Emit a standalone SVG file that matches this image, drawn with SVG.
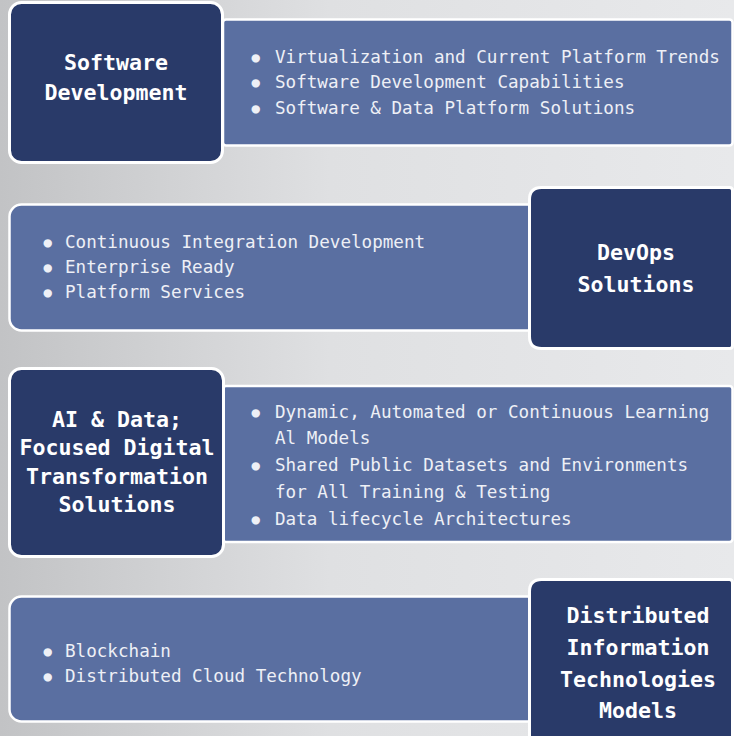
<svg xmlns="http://www.w3.org/2000/svg" width="734" height="736" viewBox="0 0 734 736">
  <defs>
    <linearGradient id="bg" x1="0" y1="0" x2="1" y2="0">
      <stop offset="0" stop-color="#c2c3c5"/>
      <stop offset="0.45" stop-color="#dfe0e2"/>
      <stop offset="1" stop-color="#e8e9eb"/>
    </linearGradient>
    <style>
      .dark { fill: #293a69; stroke: #ffffff; stroke-width: 3; }
      .light { fill: #5a6fa1; stroke: #ffffff; stroke-width: 2.5; }
      .title { font-family: "DejaVu Sans Mono", "Liberation Mono", monospace; font-weight: bold; font-size: 21.6px; fill: #ffffff; text-anchor: middle; }
      .item { font-family: "DejaVu Sans Mono", "Liberation Mono", monospace; font-size: 17.6px; fill: #eef0f6; }
      .b { font-size: 14px; }
    </style>
  </defs>
  <rect x="0" y="0" width="734" height="736" fill="url(#bg)"/>

  <g id="row1">
    <rect id="row1-details" class="light" x="223" y="19.5" width="509.5" height="126" rx="3"/>
    <g id="row1-items" class="item">
      <text x="251.5" y="62"><tspan class="b">●</tspan><tspan x="275" y="63">Virtualization and Current Platform Trends</tspan></text>
      <text x="251.5" y="87"><tspan class="b">●</tspan><tspan x="275" y="88">Software Development Capabilities</tspan></text>
      <text x="251.5" y="113"><tspan class="b">●</tspan><tspan x="275" y="114">Software &amp; Data Platform Solutions</tspan></text>
    </g>
    <g id="software-development">
      <rect class="dark" x="9.5" y="2.5" width="213" height="160" rx="12"/>
      <text class="title" x="116" y="70">Software</text>
      <text class="title" x="116" y="100">Development</text>
    </g>
  </g>

  <g id="row2">
    <rect id="row2-details" class="light" x="9.5" y="204.5" width="530" height="126" rx="12"/>
    <g id="row2-items" class="item">
      <text x="43.5" y="247"><tspan class="b">●</tspan><tspan x="65" y="248">Continuous Integration Development</tspan></text>
      <text x="43.5" y="272"><tspan class="b">●</tspan><tspan x="65" y="273">Enterprise Ready</tspan></text>
      <text x="43.5" y="297"><tspan class="b">●</tspan><tspan x="65" y="298">Platform Services</tspan></text>
    </g>
    <g id="devops-solutions">
      <path class="dark" d="M541.5,187.5 H729.5 Q732.5,187.5 732.5,190.5 V345.5 Q732.5,348.5 729.5,348.5 H541.5 Q529.5,348.5 529.5,336.5 V199.5 Q529.5,187.5 541.5,187.5 Z"/>
      <text class="title" x="636" y="260">DevOps</text>
      <text class="title" x="636" y="292">Solutions</text>
    </g>
  </g>

  <g id="row3">
    <rect id="row3-details" class="light" x="223" y="386" width="509.5" height="156" rx="3"/>
    <g id="row3-items" class="item">
      <text x="251.5" y="417"><tspan class="b">●</tspan><tspan x="275" y="418">Dynamic, Automated or Continuous Learning</tspan></text>
      <text x="275" y="444">Al Models</text>
      <text x="251.5" y="470"><tspan class="b">●</tspan><tspan x="275" y="471">Shared Public Datasets and Environments</tspan></text>
      <text x="275" y="498">for All Training &amp; Testing</text>
      <text x="251.5" y="524"><tspan class="b">●</tspan><tspan x="275" y="525">Data lifecycle Architectures</tspan></text>
    </g>
    <g id="ai-data">
      <rect class="dark" x="9.5" y="368.5" width="214" height="188" rx="12"/>
      <text class="title" x="117" y="427">AI &amp; Data;</text>
      <text class="title" x="117" y="455">Focused Digital</text>
      <text class="title" x="117" y="483.5">Transformation</text>
      <text class="title" x="117" y="512">Solutions</text>
    </g>
  </g>

  <g id="row4">
    <rect id="row4-details" class="light" x="9.5" y="596.5" width="530" height="125" rx="12"/>
    <g id="row4-items" class="item">
      <text x="43.5" y="656"><tspan class="b">●</tspan><tspan x="65" y="657">Blockchain</tspan></text>
      <text x="43.5" y="681"><tspan class="b">●</tspan><tspan x="65" y="682">Distributed Cloud Technology</tspan></text>
    </g>
    <g id="distributed-it-models">
      <path class="dark" d="M541.5,579.5 H729.5 Q732.5,579.5 732.5,582.5 V760 H529.5 V591.5 Q529.5,579.5 541.5,579.5 Z"/>
      <text class="title" x="638" y="623">Distributed</text>
      <text class="title" x="638" y="655">Information</text>
      <text class="title" x="638" y="687">Technologies</text>
      <text class="title" x="638" y="718">Models</text>
    </g>
  </g>

  <g id="connectors"/>
</svg>
